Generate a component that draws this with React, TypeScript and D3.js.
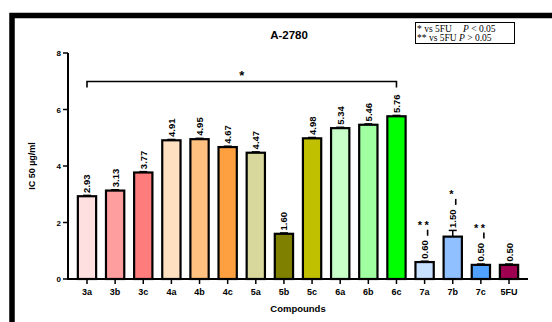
import React from 'react';
import * as d3 from 'd3';

// compounds and their IC50 values (µg/ml) against A-2780
const compounds = ['3a', '3b', '3c', '4a', '4b', '4c', '5a', '5b', '5c', '6a', '6b', '6c', '7a', '7b', '7c', '5FU'];
const ic50 = [2.93, 3.13, 3.77, 4.91, 4.95, 4.67, 4.47, 1.6, 4.98, 5.34, 5.46, 5.76, 0.6, 1.5, 0.5, 0.5];
const sem = [0.03, 0.03, 0.03, 0.03, 0.03, 0.03, 0.03, 0.03, 0.03, 0.03, 0.03, 0.03, 0.03, 0.22, 0.03, 0.03];
const barColors = ['#ffe0e0', '#ff9e9e', '#ff7c7c', '#ffe0c0', '#ffc080', '#ffa040', '#d8d89c', '#7f7f00', '#c0c000', '#c8ffc8', '#a0ffa0', '#00ff00', '#c8e0ff', '#90c0ff', '#50a0ff', '#a00050'];
const sigMarks = ['', '', '', '', '', '', '', '', '', '', '', '', '**', '*', '**', ''];
const yTicks = [0, 2, 4, 6, 8];

const W = 552;
const H = 322;
const FONT = "'Liberation Sans', Arial, sans-serif";
const SERIF = "'Liberation Serif', 'Times New Roman', serif";

export default function App() {
  const x = d3.scaleBand().domain(compounds).range([68, 528]).paddingInner(0.35).paddingOuter(0.35);
  const y = d3.scaleLinear().domain([0, 8]).range([279, 53]);
  const bw = x.bandwidth();
  const cx = (c: string) => (x(c) as number) + bw / 2;

  // bracket over 3a..6c
  const bx1 = cx('3a');
  const bx2 = cx('6c');
  const by = 81.5;

  return (
    <div style={{ position: 'absolute', left: 0, top: 0 }}>
      <svg width={W} height={H} style={{ display: 'block', background: '#fff' }}>
        {/* frame */}
        <path d={`M12 ${H} V15.5 H${W}`} fill="none" stroke="#000" strokeWidth={5.5} />

        <text x={289} y={39} textAnchor="middle" fontFamily={FONT} fontWeight="bold" fontSize={11.5}>A-2780</text>

        {/* legend */}
        <rect x={415.5} y={22.5} width={99} height={21} fill="#fff" stroke="#000" strokeWidth={1} />
        <text x={417} y={31.5} fontFamily={SERIF} fontSize={9.5}>
          * vs 5FU<tspan x={463} fontStyle="italic">P</tspan> &lt; 0.05
        </text>
        <text x={417} y={41} fontFamily={SERIF} fontSize={9.5}>
          ** vs 5FU <tspan fontStyle="italic">P</tspan> &gt; 0.05
        </text>

        {/* y axis */}
        <line x1={68} x2={68} y1={y(8)} y2={y(0)} stroke="#000" strokeWidth={2} />
        {yTicks.map(t => (
          <g key={t}>
            <line x1={63} x2={68} y1={y(t)} y2={y(t)} stroke="#000" strokeWidth={1.5} />
            <text x={61} y={y(t) + 3} textAnchor="end" fontFamily={FONT} fontWeight="bold" fontSize={8}>{t}</text>
          </g>
        ))}
        <text transform={`translate(35,166) rotate(-90)`} textAnchor="middle" fontFamily={FONT} fontWeight="bold" fontSize={9}>IC 50 µg/ml</text>

        {/* bars */}
        {compounds.map((c, i) => {
          const v = ic50[i];
          const top = y(v + sem[i]);
          const labelY = top - 2.5;
          return (
            <g key={c}>
              <rect x={x(c)} y={y(v)} width={bw} height={y(0) - y(v)} fill={barColors[i]} stroke="#000" strokeWidth={2.2} />
              <line x1={cx(c)} x2={cx(c)} y1={y(v)} y2={top} stroke="#000" strokeWidth={1.5} />
              <line x1={cx(c) - 4} x2={cx(c) + 4} y1={top} y2={top} stroke="#000" strokeWidth={1.5} />
              <text transform={`translate(${cx(c) + 3.5},${labelY}) rotate(-90)`} fontFamily={FONT} fontWeight="bold" fontSize={9.5}>
                {v.toFixed(2)}
              </text>
              {sigMarks[i] && (
                <g>
                  <line x1={cx(c) + 3} x2={cx(c) + 3} y1={labelY - 23} y2={labelY - 29} stroke="#000" strokeWidth={1.6} />
                  <text x={cx(c)} y={labelY - 30} textAnchor="middle" fontFamily={FONT} fontWeight="bold" fontSize={11} letterSpacing={2.5}>
                    {sigMarks[i]}
                  </text>
                </g>
              )}
              <line x1={cx(c)} x2={cx(c)} y1={y(0)} y2={y(0) + 5} stroke="#000" strokeWidth={1.5} />
              <text x={cx(c)} y={294.5} textAnchor="middle" fontFamily={FONT} fontWeight="bold" fontSize={9}>{c}</text>
            </g>
          );
        })}

        {/* x axis */}
        <line x1={67} x2={528} y1={y(0)} y2={y(0)} stroke="#000" strokeWidth={2} />
        <text x={298} y={312} textAnchor="middle" fontFamily={FONT} fontWeight="bold" fontSize={9.5}>Compounds</text>

        {/* significance bracket */}
        <path d={`M${bx1} ${by + 6} V${by} H${bx2} V${by + 6}`} fill="none" stroke="#000" strokeWidth={1.6} />
        <text x={(bx1 + bx2) / 2} y={by - 2} textAnchor="middle" fontFamily={FONT} fontWeight="bold" fontSize={13}>*</text>
      </svg>
    </div>
  );
}
